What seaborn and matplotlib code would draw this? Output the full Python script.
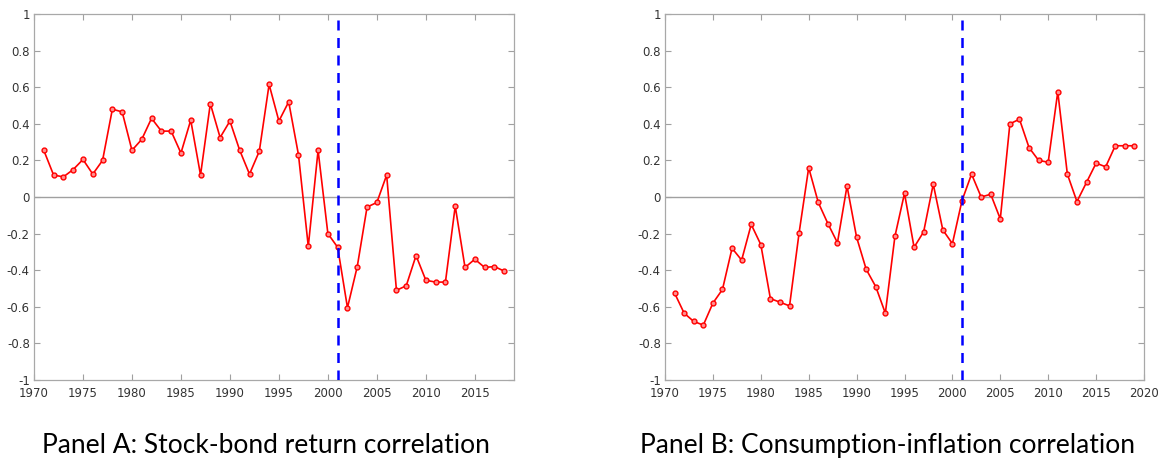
import numpy as np
import pandas as pd
import matplotlib
matplotlib.use("Agg")
import matplotlib.pyplot as plt
import seaborn as sns

years_a = list(range(1971, 2019))
corr_a = [0.255, 0.12, 0.11, 0.15, 0.205, 0.125, 0.20, 0.48, 0.465, 0.255,
          0.315, 0.43, 0.36, 0.36, 0.24, 0.42, 0.12, 0.51, 0.325, 0.415,
          0.255, 0.125, 0.25, 0.615, 0.415, 0.52, 0.23, -0.27, 0.255, -0.20,
          -0.275, -0.605, -0.38, -0.055, -0.03, 0.12, -0.51, -0.485, -0.32, -0.455,
          -0.465, -0.465, -0.05, -0.385, -0.34, -0.385, -0.38, -0.405]

years_b = list(range(1971, 2020))
corr_b = [-0.525, -0.635, -0.68, -0.70, -0.58, -0.505, -0.28, -0.345, -0.15, -0.26,
          -0.555, -0.575, -0.595, -0.195, 0.16, -0.03, -0.145, -0.25, 0.06, -0.22,
          -0.395, -0.49, -0.635, -0.215, 0.02, -0.275, -0.19, 0.07, -0.18, -0.255,
          -0.02, 0.125, 0.0, 0.015, -0.12, 0.40, 0.425, 0.27, 0.20, 0.19,
          0.575, 0.125, -0.025, 0.08, 0.185, 0.165, 0.28, 0.28, 0.28]

break_year = 2001
captions = ["Panel A: Stock-bond return correlation",
            "Panel B: Consumption-inflation correlation"]
yticks = [-1, -0.8, -0.6, -0.4, -0.2, 0, 0.2, 0.4, 0.6, 0.8, 1]
ytick_labels = ["-1", "-0.8", "-0.6", "-0.4", "-0.2", "0", "0.2", "0.4", "0.6", "0.8", "1"]

sns.set_style("white")
plt.rcParams['font.family'] = ['DejaVu Sans']

fig = plt.figure(figsize=(11.64, 4.58), dpi=100)
W, H = 1164, 458
ax_a = fig.add_axes([34 / W, 1 - 380 / H, 480 / W, 366 / H])
ax_b = fig.add_axes([665 / W, 1 - 380 / H, 479 / W, 366 / H])

panels = [(ax_a, years_a, corr_a, (1970, 2019), list(range(1970, 2016, 5)), 266),
          (ax_b, years_b, corr_b, (1970, 2020), list(range(1970, 2021, 5)), 888)]

for (ax, yrs, vals, xlim, xt, cx), cap in zip(panels, captions):
    df = pd.DataFrame({"year": yrs, "corr": vals})
    ax.axhline(0, color="#a0a0a0", lw=1.0, zorder=1)
    sns.lineplot(data=df, x="year", y="corr", ax=ax, color="#ff0000",
                 lw=1.2, marker="o", markersize=3.5, markeredgecolor="#ff0000",
                 markerfacecolor="#ff9090", markeredgewidth=1.0, zorder=3)
    ax.axvline(break_year, color="#0000ff", lw=1.8, ls=(0, (4, 3)), zorder=4)
    ax.set_xlim(*xlim)
    ax.set_ylim(-1, 1)
    ax.set_xticks(xt)
    ax.set_xticklabels([str(v) for v in xt])
    ax.set_yticks(yticks)
    ax.set_yticklabels(ytick_labels)
    ax.set_xlabel("")
    ax.set_ylabel("")
    ax.tick_params(direction="in", length=4, width=0.8, color="#a0a0a0",
                   labelsize=8.5, labelcolor="#333333",
                   top=True, right=True, bottom=True, left=True)
    ax.tick_params(axis="x", pad=5)
    ax.tick_params(axis="y", pad=3)
    for s in ax.spines.values():
        s.set_color("#a8a8a8")
        s.set_linewidth(0.9)
    fig.text(cx / W, 1 - 453 / H, cap, ha="center", va="baseline",
             fontsize=19, color="black", family=["Lato", "DejaVu Sans"])

fig.savefig("out.png", dpi=100)
